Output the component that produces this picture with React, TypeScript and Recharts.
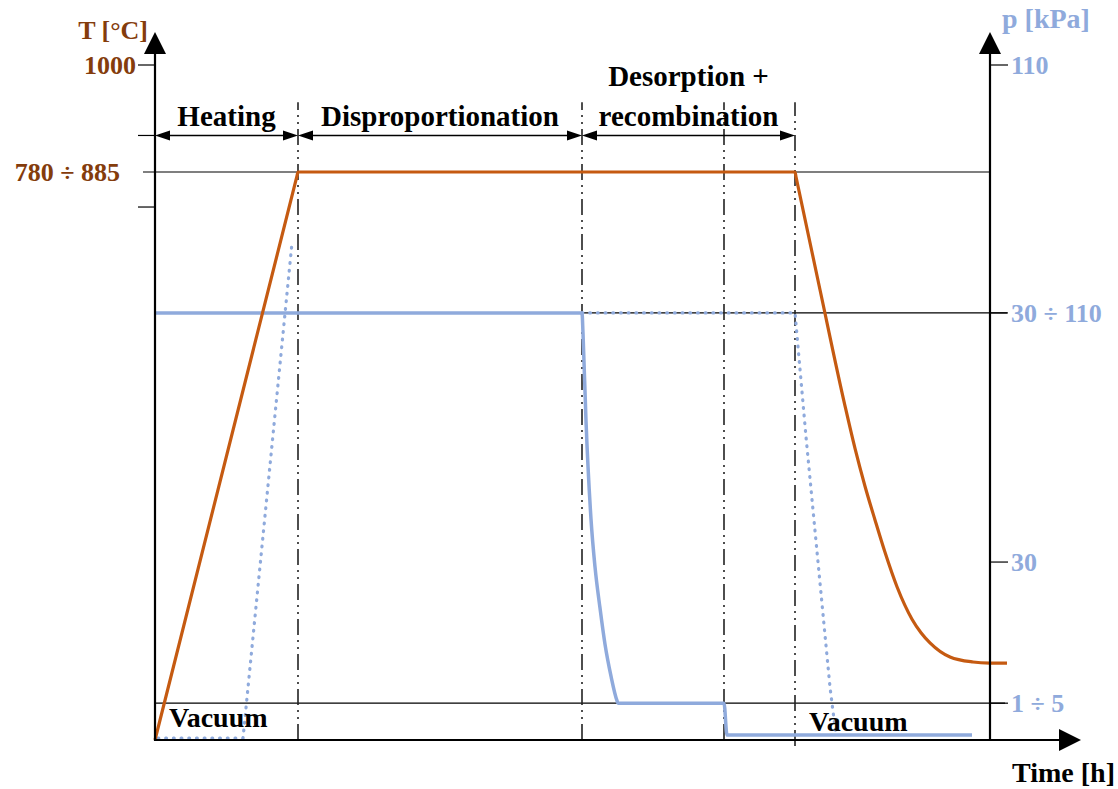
import {
  ComposedChart,
  Line,
  XAxis,
  YAxis,
  ReferenceLine,
  ReferenceDot,
} from "recharts";

// time axis is schematic (no ticks), units picked so the plot reads left -> right
const temperature = [
  { t: 0, T: 0 },
  { t: 142, T: 835.6 },
  { t: 143, T: 841.5 },
  { t: 640, T: 841.5 },
  { t: 641, T: 834.5 },
  { t: 665, T: 667 },
  { t: 690, T: 495 },
  { t: 700, T: 432 },
  { t: 710, T: 376 },
  { t: 720, T: 326 },
  { t: 730, T: 278 },
  { t: 742, T: 227 },
  { t: 757, T: 179 },
  { t: 766, T: 159 },
  { t: 775, T: 144 },
  { t: 795, T: 123 },
  { t: 818, T: 115.6 },
  { t: 835, T: 114 },
  { t: 852, T: 113.8 },
];

const pressure = [
  { t: 0, p: 69.6 },
  { t: 427, p: 69.6 },
  { t: 428, p: 66.3 },
  { t: 431, p: 52 },
  { t: 436, p: 36 },
  { t: 440, p: 28.2 },
  { t: 445, p: 21.5 },
  { t: 450, p: 15.6 },
  { t: 456, p: 10.4 },
  { t: 462, p: 6.4 },
  { t: 463, p: 6 },
  { t: 569, p: 6 },
  { t: 572, p: 0.8 },
  { t: 817, p: 0.8 },
];

const pressureFill = [
  { t: 3, p: 0.3 },
  { t: 88, p: 0.3 },
  { t: 137, p: 81 },
];

const pressureRelease = [
  { t: 427, p: 69.6 },
  { t: 640, p: 69.6 },
  { t: 651, p: 49.4 },
  { t: 663, p: 29 },
  { t: 675, p: 8.6 },
  { t: 681, p: 0.8 },
];

const stageBounds = [143, 427, 569, 640];
const phases = [
  { lines: ["Heating"], from: 0, to: 143 },
  { lines: ["Disproportionation"], from: 143, to: 427 },
  { lines: ["Desorption +", "recombination"], from: 427, to: 640 },
];

const tTicks = [789.6, 841.5, 895.6, 1000];
const tTickLabels = ["", "780 ÷ 885", "", "1000"];
const pTicks = [6, 29, 69.6, 110];
const pTickLabels = ["1 ÷ 5", "30", "30 ÷ 110", "110"];

const FONT = '"Liberation Serif", "Times New Roman", serif';
const ORANGE = "#C55A11";
const BROWN = "#843C0C";
const BLUE = "#8FAADC";

const AxisArrow = (props: any) => {
  const { x1, y1, x2, y2 } = props;
  const dx = x2 - x1;
  const dy = y2 - y1;
  const len = Math.hypot(dx, dy);
  const ux = dx / len;
  const uy = dy / len;
  const bx = x2 - ux * 22;
  const by = y2 - uy * 22;
  return (
    <g>
      <line x1={x1} y1={y1} x2={bx} y2={by} stroke="#000" strokeWidth={2.2} />
      <polygon
        points={`${x2},${y2} ${bx - uy * 11},${by + ux * 11} ${bx + uy * 11},${by - ux * 11}`}
        fill="#000"
      />
    </g>
  );
};

const PhaseArrow = (props: any) => {
  const { x1, y1, x2, lines } = props;
  const mid = (x1 + x2) / 2;
  const h = 15;
  const w = 5;
  return (
    <g>
      <line x1={x1 + h} y1={y1} x2={x2 - h} y2={y1} stroke="#000" strokeWidth={1.5} />
      <polygon points={`${x1},${y1} ${x1 + h},${y1 - w} ${x1 + h},${y1 + w}`} fill="#000" />
      <polygon points={`${x2},${y1} ${x2 - h},${y1 - w} ${x2 - h},${y1 + w}`} fill="#000" />
      {lines.map((s: string, i: number) => (
        <text
          key={s}
          x={mid}
          y={y1 - 9 - (lines.length - 1 - i) * 40}
          textAnchor="middle"
          fontFamily={FONT}
          fontWeight="bold"
          fontSize={29}
          fill="#000"
        >
          {s}
        </text>
      ))}
    </g>
  );
};

const TTick = (props: any) => {
  const { x, y, payload } = props;
  const label = tTickLabels[tTicks.indexOf(payload.value)];
  const wide = label.includes("÷");
  return (
    <g>
      {!wide && <line x1={x - 17} y1={y} x2={x} y2={y} stroke="#000" strokeWidth={1.2} />}
      <text
        x={wide ? x - 35 : x - 19}
        y={y + 9}
        textAnchor="end"
        fontFamily={FONT}
        fontWeight="bold"
        fontSize={26}
        fill={BROWN}
      >
        {label}
      </text>
    </g>
  );
};

const PTick = (props: any) => {
  const { x, y, payload } = props;
  const label = pTickLabels[pTicks.indexOf(payload.value)];
  return (
    <g>
      <line x1={x - 17} y1={y} x2={x + 1} y2={y} stroke="#000" strokeWidth={1.2} />
      <text
        x={x + 4}
        y={y + 9}
        textAnchor="start"
        fontFamily={FONT}
        fontWeight="bold"
        fontSize={26}
        fill={BLUE}
      >
        {label}
      </text>
    </g>
  );
};

const textMark = (s: string) => (props: any) =>
  (
    <text
      x={props.cx}
      y={props.cy}
      textAnchor="start"
      fontFamily={FONT}
      fontWeight="bold"
      fontSize={28}
      fill="#000"
    >
      {s}
    </text>
  );

const dashDot = "16 5 2 5 2 5";
const dots = "0.8 6.9";

export default function App() {
  return (
    <div style={{ position: "absolute", left: 0, top: 0, background: "#fff" }}>
      <ComposedChart
        width={1118}
        height={789}
        margin={{ top: 65, right: 0, bottom: 0, left: 0 }}
      >
        <XAxis
          type="number"
          dataKey="t"
          domain={[0, 852]}
          tick={false}
          axisLine={false}
          tickLine={false}
          height={49}
          label={(p: any) => (
            <text
              x={p.viewBox.x + p.viewBox.width + 108}
              y={p.viewBox.y + 42}
              textAnchor="end"
              fontFamily={FONT}
              fontWeight="bold"
              fontSize={28}
              fill="#000"
            >
              Time [h]
            </text>
          )}
        />
        <YAxis
          yAxisId="T"
          type="number"
          domain={[0, 1000]}
          ticks={tTicks}
          interval={0}
          width={155}
          axisLine={false}
          tickLine={false}
          tickSize={0}
          tickMargin={0}
          tick={TTick}
          label={(p: any) => (
            <text
              x={p.viewBox.x + p.viewBox.width - 7}
              y={p.viewBox.y - 26}
              textAnchor="end"
              fontFamily={FONT}
              fontWeight="bold"
              fontSize={26}
              fill={BROWN}
            >
              T [°C]
            </text>
          )}
        />
        <YAxis
          yAxisId="p"
          orientation="right"
          type="number"
          domain={[0, 110]}
          ticks={pTicks}
          interval={0}
          width={111}
          axisLine={false}
          tickLine={false}
          tickSize={0}
          tickMargin={0}
          tick={PTick}
          label={(p: any) => (
            <text
              x={p.viewBox.x - 5}
              y={p.viewBox.y - 37}
              textAnchor="start"
              fontFamily={FONT}
              fontWeight="bold"
              fontSize={28}
              fill={BLUE}
            >
              p [kPa]
            </text>
          )}
        />

        {/* level lines */}
        <ReferenceLine
          yAxisId="T"
          segment={[{ x: -12, y: 841.5 }, { x: 835, y: 841.5 }]}
          stroke="#000"
          strokeWidth={1.2}
          ifOverflow="visible"
        />
        <ReferenceLine
          yAxisId="p"
          segment={[{ x: 0, y: 69.6 }, { x: 852, y: 69.6 }]}
          stroke="#000"
          strokeWidth={1.2}
          ifOverflow="visible"
        />
        <ReferenceLine
          yAxisId="p"
          segment={[{ x: 0, y: 6 }, { x: 850, y: 6 }]}
          stroke="#000"
          strokeWidth={1.2}
          ifOverflow="visible"
        />

        {/* stage boundaries */}
        {stageBounds.map((b, i) => (
          <ReferenceLine
            key={b}
            yAxisId="T"
            segment={[{ x: b, y: i === 3 ? -9 : 0 }, { x: b, y: 945 }]}
            stroke="#222"
            strokeWidth={1.6}
            strokeDasharray={dashDot}
            ifOverflow="visible"
          />
        ))}

        {phases.map((ph) => (
          <ReferenceLine
            key={ph.from}
            yAxisId="T"
            segment={[{ x: ph.from, y: 895.6 }, { x: ph.to, y: 895.6 }]}
            ifOverflow="visible"
            shape={(p: any) => <PhaseArrow {...p} lines={ph.lines} />}
          />
        ))}

        <Line
          yAxisId="p"
          data={pressureFill}
          dataKey="p"
          type="linear"
          stroke={BLUE}
          strokeWidth={3.2}
          strokeDasharray={dots}
          strokeLinecap="round"
          dot={false}
          activeDot={false}
          isAnimationActive={false}
        />
        <Line
          yAxisId="p"
          data={pressureRelease}
          dataKey="p"
          type="linear"
          stroke={BLUE}
          strokeWidth={3.2}
          strokeDasharray={dots}
          strokeLinecap="round"
          dot={false}
          activeDot={false}
          isAnimationActive={false}
        />
        <Line
          yAxisId="p"
          data={pressure}
          dataKey="p"
          type="monotone"
          stroke={BLUE}
          strokeWidth={3.5}
          dot={false}
          activeDot={false}
          isAnimationActive={false}
        />
        <Line
          yAxisId="T"
          data={temperature}
          dataKey="T"
          type="monotone"
          stroke={ORANGE}
          strokeWidth={3.2}
          dot={false}
          activeDot={false}
          isAnimationActive={false}
        />

        {/* axes with arrow heads */}
        <ReferenceLine
          yAxisId="T"
          segment={[{ x: 0, y: -1 }, { x: 0, y: 1049 }]}
          ifOverflow="visible"
          shape={AxisArrow}
        />
        <ReferenceLine
          yAxisId="T"
          segment={[{ x: 835, y: -1 }, { x: 835, y: 1049 }]}
          ifOverflow="visible"
          shape={AxisArrow}
        />
        <ReferenceLine
          yAxisId="T"
          segment={[{ x: -1, y: 0 }, { x: 926, y: 0 }]}
          ifOverflow="visible"
          shape={AxisArrow}
        />

        <ReferenceDot
          yAxisId="T"
          x={14}
          y={19.3}
          r={0}
          ifOverflow="visible"
          shape={textMark("Vacuum")}
        />
        <ReferenceDot
          yAxisId="T"
          x={654}
          y={13.3}
          r={0}
          ifOverflow="visible"
          shape={textMark("Vacuum")}
        />
      </ComposedChart>
    </div>
  );
}
